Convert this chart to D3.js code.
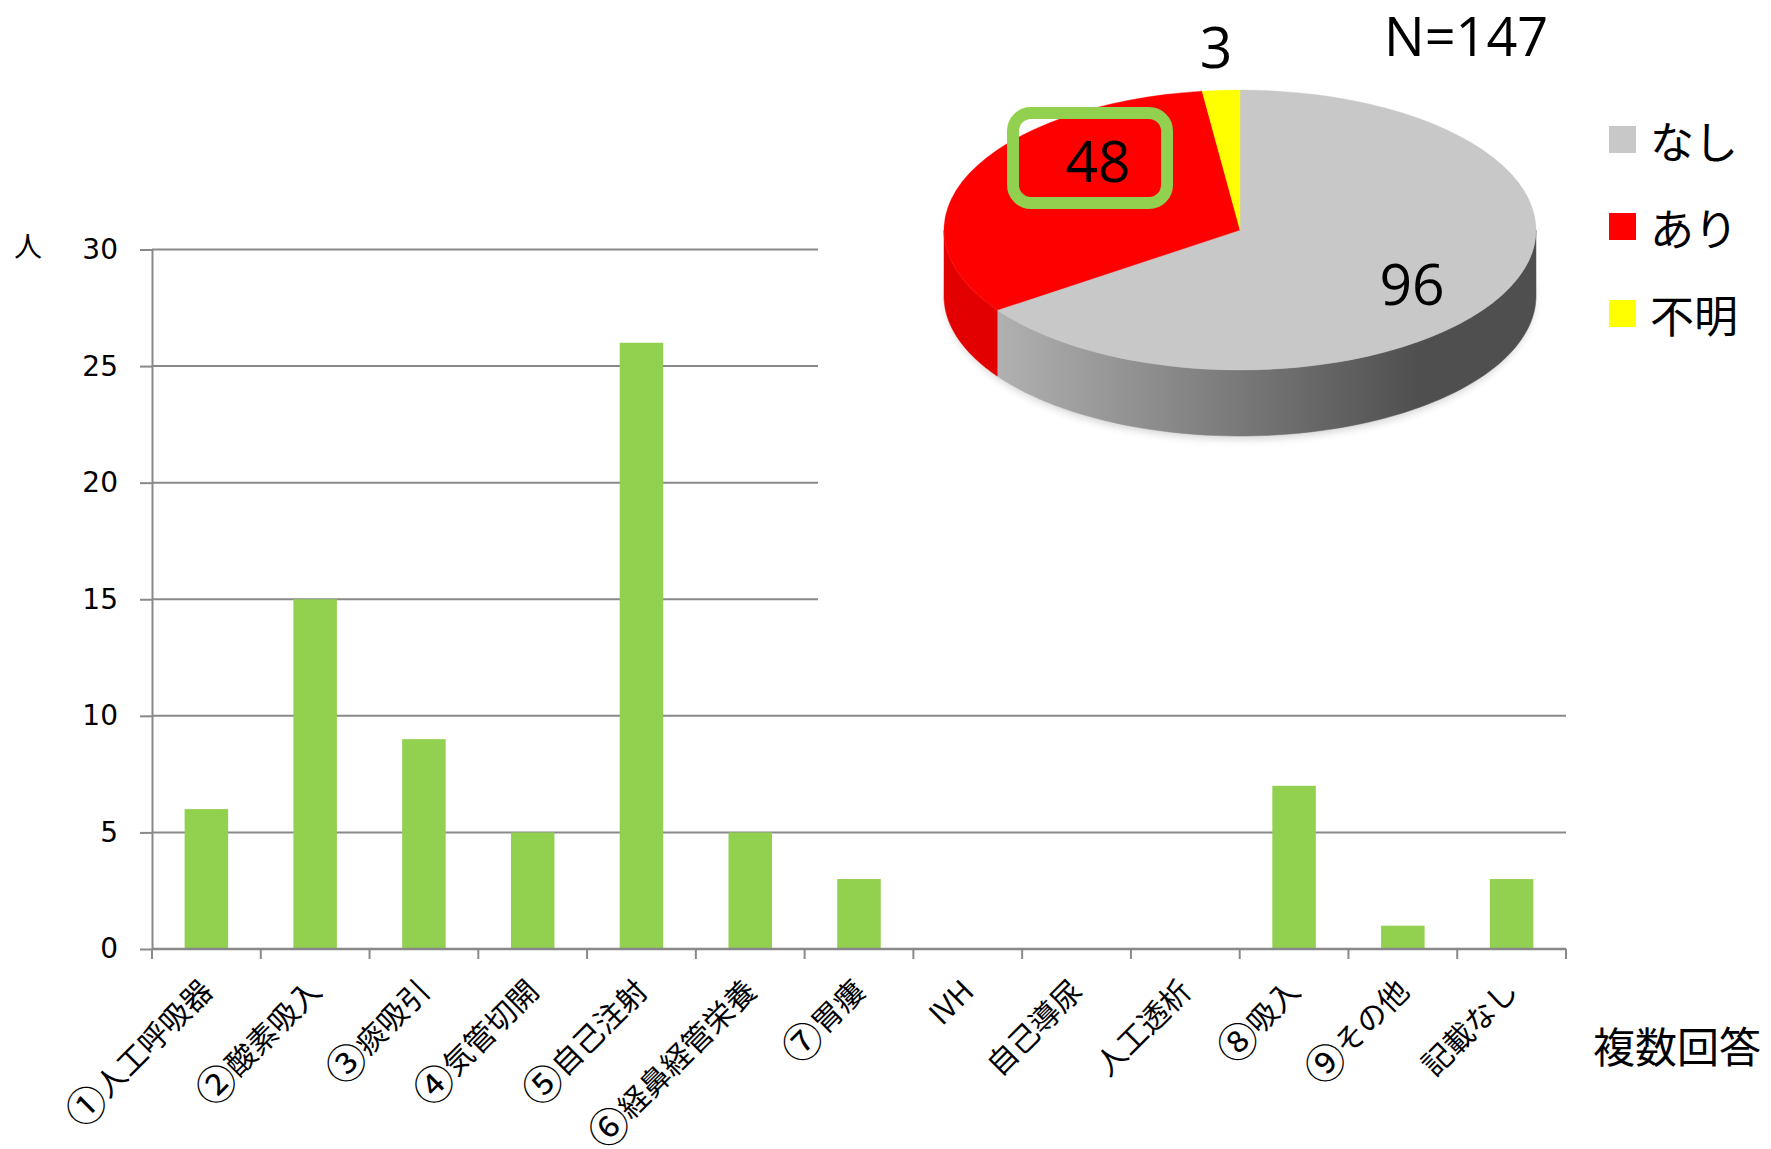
<!DOCTYPE html>
<html><head><meta charset="utf-8">
<script src="https://cdn.jsdelivr.net/npm/d3@7"></script>
<style>body{margin:0;background:#fff}svg{display:block}</style>
</head><body><svg id="c" width="1771" height="1149"></svg>
<script>
// ---- data ----
const categories = ["①人工呼吸器","②酸素吸入","③痰吸引","④気管切開","⑤自己注射","⑥経鼻経管栄養","⑦胃瘻","IVH","自己導尿","人工透析","⑧吸入","⑨その他","記載なし"];
const counts = [6,15,9,5,26,5,3,0,0,0,7,1,3];
const yTicks = [0,5,10,15,20,25,30];
const pieCategories = ["なし","あり","不明"];
const pieCounts = [96,48,3];
const totalLabel = "N=147";
const yUnit = "人";
const xNote = "複数回答";

(function () {
// ---- styles ----
const pieColors = ["#c8c8c8","#ff0000","#ffff00"];
const sideColors = ["url(#graySide)","#e30000","#e0e000"];
const barColor = "#92d050";
const axisColor = "#898989";
const jp = "'Noto Sans CJK JP','Noto Sans',sans-serif";
const num = "'Open Sans','Noto Sans',sans-serif";

const W = 1771, H = 1149;
const svg = d3.select("#c");
const defs = svg.append("defs");
const g1 = defs.append("linearGradient").attr("id","graySide").attr("gradientUnits","userSpaceOnUse")
  .attr("x1",944).attr("x2",1420).attr("y1",0).attr("y2",0);
g1.append("stop").attr("offset","0").attr("stop-color","#bdbdbd");
g1.append("stop").attr("offset","1").attr("stop-color","#4f4f4f");
const f = defs.append("filter").attr("id","blur").attr("x","-20%").attr("y","-20%").attr("width","140%").attr("height","140%");
f.append("feGaussianBlur").attr("stdDeviation",4);

// ---- bar chart ----
const pLeft = 152, pRight = 1566, pTop = 249.5, pBottom = 949;
const x = d3.scaleBand().domain(categories).range([pLeft, pRight]).padding(0);
const xb = d3.scaleBand().domain(categories).range([pLeft, pRight]).paddingInner(0.6).paddingOuter(0.3);
const y = d3.scaleLinear().domain([0, 30]).range([pBottom, pTop]);

// gridlines
svg.append("g").selectAll("line").data(yTicks.filter(t => t > 0)).join("line")
  .attr("x1", pLeft).attr("x2", pRight).attr("y1", d => y(d)).attr("y2", d => y(d))
  .attr("stroke", axisColor).attr("stroke-width", 2);

// bars
svg.append("g").selectAll("rect").data(categories).join("rect")
  .attr("x", d => xb(d)).attr("width", xb.bandwidth())
  .attr("y", (d, i) => y(counts[i])).attr("height", (d, i) => y(0) - y(counts[i]))
  .attr("fill", barColor);

// y axis
const yAxis = d3.axisLeft(y).tickValues(yTicks).tickSize(12).tickSizeOuter(0).tickPadding(22);
const ya = svg.append("g").attr("transform", `translate(${pLeft},0)`).call(yAxis);
ya.select(".domain").attr("stroke", axisColor).attr("stroke-width", 2);
ya.selectAll(".tick line").attr("stroke", axisColor).attr("stroke-width", 2);
ya.selectAll(".tick text").attr("font-family", "'DejaVu Sans',sans-serif").attr("font-size", 28).attr("fill", "#000");

// x axis line + ticks at band boundaries
svg.append("line").attr("x1", pLeft).attr("x2", pRight).attr("y1", pBottom).attr("y2", pBottom)
  .attr("stroke", axisColor).attr("stroke-width", 2.5);
const bounds = categories.map(c => x(c)).concat([x(categories[categories.length - 1]) + x.bandwidth()]);
svg.append("g").selectAll("line").data(bounds).join("line")
  .attr("x1", d => d).attr("x2", d => d).attr("y1", pBottom).attr("y2", pBottom + 10)
  .attr("stroke", axisColor).attr("stroke-width", 2);

// x labels (circled numbers drawn a bit larger, as in the reference)
const circ = /^[①-⑨]/;
const xl = svg.append("g").selectAll("text").data(categories).join("text")
  .attr("transform", d => `translate(${x(d) + x.bandwidth() / 2 + 8},${pBottom + 44}) rotate(-45)`)
  .attr("text-anchor", "end").attr("font-family", jp).attr("font-size", 30).attr("fill", "#000");
xl.each(function (d) {
  const t = d3.select(this);
  if (circ.test(d)) {
    t.append("tspan").attr("font-size", 40).attr("dy", 4).text(d[0]);
    t.append("tspan").attr("dy", -4).text(d.slice(1));
  } else {
    t.text(d);
  }
});

svg.append("text").attr("x", 14).attr("y", 257).attr("font-family", jp).attr("font-size", 28).text(yUnit);
svg.append("text").attr("x", 1593).attr("y", 1063).attr("font-family", jp).attr("font-size", 42).text(xNote);

// ---- pie (picture pasted over chart) ----
svg.append("rect").attr("x", 818).attr("y", 0).attr("width", W - 818).attr("height", 650).attr("fill", "#fff");

const cx = 1240, cy = 230, rx = 296, ry = 140, depth = 66;
const arcs = d3.pie().sort(null).value(d => d)(pieCounts);
const pt = (a, dy) => [cx + rx * Math.sin(a), cy - ry * Math.cos(a) + dy];

// shadow
svg.append("ellipse").attr("cx", cx).attr("cy", cy + depth + 3).attr("rx", rx - 2).attr("ry", ry)
  .attr("fill", "#000").attr("opacity", 0.18).attr("filter", "url(#blur)");

// sides
const line = d3.line();
arcs.forEach((a, i) => {
  const s0 = Math.max(a.startAngle, Math.PI / 2), s1 = Math.min(a.endAngle, 3 * Math.PI / 2);
  if (s1 <= s0) return;
  const n = 80, topPts = [], botPts = [];
  for (let k = 0; k <= n; k++) {
    const t = s0 + (s1 - s0) * k / n;
    topPts.push(pt(t, 0)); botPts.push(pt(t, depth));
  }
  svg.append("path").attr("d", line(topPts.concat(botPts.reverse())) + "Z")
    .attr("fill", sideColors[i]).attr("stroke", sideColors[i]).attr("stroke-width", 0.5);
});

// top faces
const arc = d3.arc().innerRadius(0).outerRadius(rx);
const topG = svg.append("g").attr("transform", `translate(${cx},${cy}) scale(1,${ry / rx})`);
topG.selectAll("path").data(arcs).join("path").attr("d", arc)
  .attr("fill", (d, i) => pieColors[i]).attr("stroke", (d, i) => pieColors[i]).attr("stroke-width", 0.5);

// pie labels
const pieLabelPos = [[1412, 305], [1098, 182], [1216, 68]];
svg.append("g").selectAll("text").data(pieCounts).join("text")
  .attr("x", (d, i) => pieLabelPos[i][0]).attr("y", (d, i) => pieLabelPos[i][1])
  .attr("text-anchor", "middle").attr("font-family", num).attr("font-size", 57).attr("fill", "#000")
  .text(d => d);
svg.append("rect").attr("x", 1013).attr("y", 113).attr("width", 154).attr("height", 90).attr("rx", 18)
  .attr("fill", "none").attr("stroke", barColor).attr("stroke-width", 12);
svg.append("text").attr("x", 1384).attr("y", 56).attr("font-family", num).attr("font-size", 54).text(totalLabel);

// legend
const lg = svg.append("g").selectAll("g").data(pieCategories).join("g")
  .attr("transform", (d, i) => `translate(1609,${139.5 + i * 87})`);
lg.append("rect").attr("x", 0).attr("y", -13.5).attr("width", 27).attr("height", 27).attr("fill", (d, i) => pieColors[i]);
lg.append("text").attr("x", 41).attr("y", 0).attr("dominant-baseline", "central")
  .attr("font-family", jp).attr("font-size", 44).text(d => d);
})();
</script></body></html>
